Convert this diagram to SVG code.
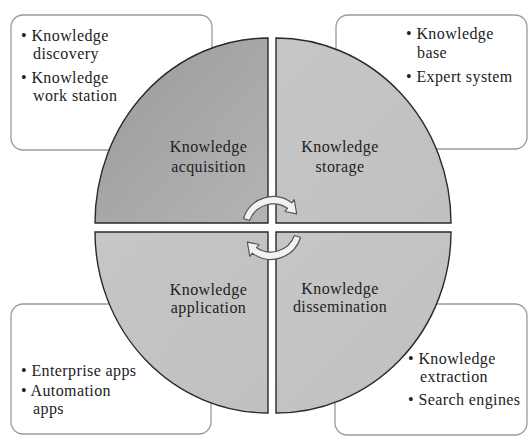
<svg xmlns="http://www.w3.org/2000/svg" width="529" height="436" viewBox="0 0 529 436">
<style>
.box{fill:#ffffff;stroke:#9a9a9a;stroke-width:1.3}
.q{stroke:#2a2a2a;stroke-width:1.4}
.t{font-family:"Liberation Serif","Times New Roman",serif;font-size:16px;letter-spacing:0.4px;fill:#222}
.c{text-anchor:middle}
.arr{fill:#f2f2f2;stroke:#555;stroke-width:1.2;stroke-linejoin:round}
</style>
<defs>
<linearGradient id="gDark" x1="0" y1="0" x2="1" y2="1">
<stop offset="0" stop-color="#9a9a9a"/>
<stop offset="1" stop-color="#b4b4b4"/>
</linearGradient>
<linearGradient id="gLight" x1="0" y1="0" x2="1" y2="1">
<stop offset="0" stop-color="#c6c6c6"/>
<stop offset="1" stop-color="#c0c0c0"/>
</linearGradient>
</defs>
<rect width="529" height="436" fill="#ffffff"/>

<g id="box-acquisition">
<rect class="box" x="11" y="15" width="201" height="135" rx="12"/>
<text class="t" x="21" y="41">• Knowledge</text>
<text class="t" x="33" y="59">discovery</text>
<text class="t" x="21" y="83">• Knowledge</text>
<text class="t" x="33" y="101">work station</text>
</g>
<g id="box-storage">
<rect class="box" x="336" y="15" width="191" height="134" rx="12"/>
<text class="t" x="406" y="39">• Knowledge</text>
<text class="t" x="417" y="58">base</text>
<text class="t" x="406" y="82">• Expert system</text>
</g>
<g id="box-application">
<rect class="box" x="11" y="304" width="200" height="130" rx="12"/>
<text class="t" x="21" y="376">• Enterprise apps</text>
<text class="t" x="21" y="396">• Automation</text>
<text class="t" x="33" y="414">apps</text>
</g>
<g id="box-dissemination">
<rect class="box" x="335" y="304" width="192" height="131" rx="12"/>
<text class="t" x="408" y="364">• Knowledge</text>
<text class="t" x="420" y="382">extraction</text>
<text class="t" x="408" y="405">• Search engines</text>
</g>

<g id="q-acquisition">
<path class="q" fill="url(#gDark)" d="M268,223 L95,223 A173,185 0 0 1 268,38 Z"/>
<text class="t c" x="208.5" y="152">Knowledge</text>
<text class="t c" x="208.5" y="172">acquisition</text>
</g>
<g id="q-storage">
<path class="q" fill="url(#gLight)" d="M276,223 L276,38 A175,185 0 0 1 451,223 Z"/>
<text class="t c" x="340" y="152">Knowledge</text>
<text class="t c" x="340" y="172">storage</text>
</g>
<g id="q-application">
<path class="q" fill="url(#gLight)" d="M268,232 L268,413 A173,181 0 0 1 95,232 Z"/>
<text class="t c" x="208.5" y="295">Knowledge</text>
<text class="t c" x="208.5" y="313">application</text>
</g>
<g id="q-dissemination">
<path class="q" fill="url(#gLight)" d="M276,232 L451,232 A175,181 0 0 1 276,413 Z"/>
<text class="t c" x="340" y="294">Knowledge</text>
<text class="t c" x="340" y="312">dissemination</text>
</g>

<g id="connectors">
<path class="arr" d="M243.5,218.5 A31,31 0 0 1 291.7,202.8 L294.2,199.6 L296.7,213.8 L284.9,211.5 L287.4,208.3 A25.5,25.5 0 0 0 249.5,220.5 Z"/>
<path class="arr" transform="rotate(180 272 228)" d="M243.5,218.5 A31,31 0 0 1 291.7,202.8 L294.2,199.6 L296.7,213.8 L284.9,211.5 L287.4,208.3 A25.5,25.5 0 0 0 249.5,220.5 Z"/>
</g>
</svg>
